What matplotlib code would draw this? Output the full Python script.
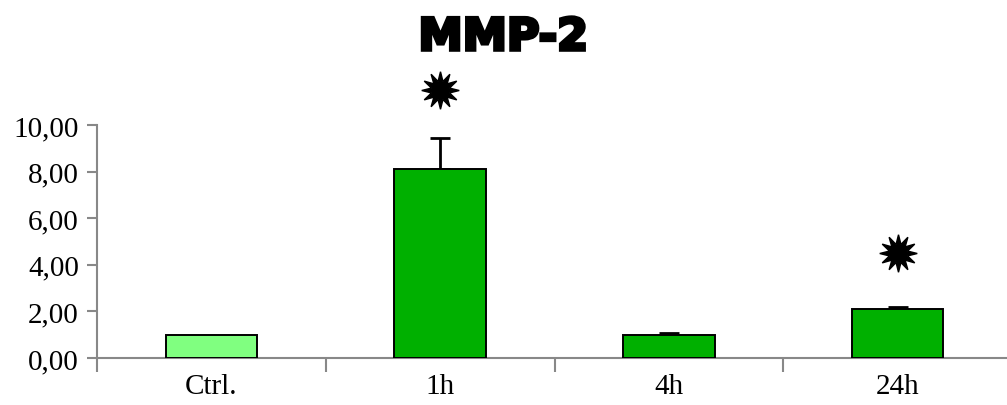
import numpy as np
import matplotlib.pyplot as plt
import matplotlib.patheffects as pe

groups = ["Ctrl.", "1h", "4h", "24h"]
values = [1.0, 8.1, 1.0, 2.1]
errors = [0.0, 1.35, 0.08, 0.07]
star_groups = [1, 3]
star_y = [11.5, 4.5]
yticks = [0, 2, 4, 6, 8, 10]
ytick_labels = ["0,00", "2,00", "4,00", "6,00", "8,00", "10,00"]
bar_colors = ["#80ff80", "#00b000", "#00b000", "#00b000"]

fig = plt.figure(figsize=(10.07, 4.06), dpi=100)
ax = fig.add_axes([97/1007, 47/406, 915/1007, 233/406])

x = np.arange(len(groups))
ax.bar(x, values, width=0.4, color=bar_colors, edgecolor="black", linewidth=1.4, zorder=3)
ax.errorbar(x[1:], values[1:], yerr=[np.zeros(3), errors[1:]], fmt="none",
            ecolor="black", elinewidth=2, capsize=7, capthick=2, zorder=2)

ax.plot(star_groups, star_y, linestyle="none", marker=(12, 1, 0), markersize=27,
        color="black", clip_on=False)

ax.set_xlim(-0.5, 3.5)
ax.set_ylim(0, 10)

for s in ["top", "right"]:
    ax.spines[s].set_visible(False)
ax.spines["left"].set_color("#888888")
ax.spines["bottom"].set_color("#888888")
ax.spines["left"].set_linewidth(1.5)
ax.spines["bottom"].set_linewidth(1.5)

ax.set_yticks(yticks)
ax.set_yticklabels(ytick_labels, fontfamily="Liberation Serif", fontsize=21)
ax.tick_params(axis="y", length=7, width=1.5, color="#888888", pad=6)

# boundaries get tick marks, centres get labels
ax.set_xticks([-0.5, 0.5, 1.5, 2.5])
ax.set_xticklabels([])
ax.tick_params(axis="x", which="major", length=10, width=1.5, color="#888888")
ax.set_xticks(x, minor=True)
ax.set_xticklabels(groups, minor=True, fontfamily="Liberation Serif", fontsize=21)
ax.tick_params(axis="x", which="minor", length=0, pad=11)

fig.text(0.5, 0.958, "MMP-2", ha="center", va="top", fontsize=32,
         fontweight="heavy", fontfamily="DejaVu Sans",
         path_effects=[pe.withStroke(linewidth=2.5, foreground="black", joinstyle="miter")])

fig.savefig("out.png", dpi=100)
